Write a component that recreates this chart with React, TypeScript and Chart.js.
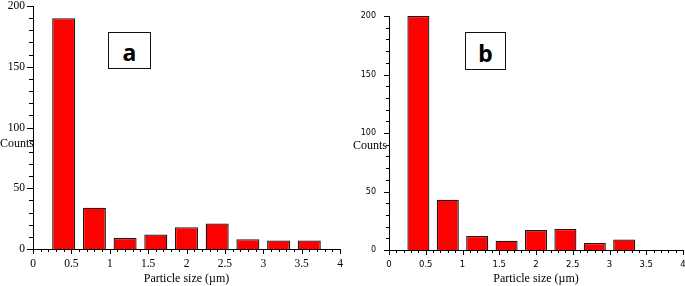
import React, { useEffect, useRef } from "react";
import { Chart, registerables } from "chart.js";

Chart.register(...registerables);

// ---- data ----
const binCentersA = [0.4, 0.8, 1.2, 1.6, 2.0, 2.4, 2.8, 3.2, 3.6];
const countsA = [190, 34, 9, 12, 18, 21, 8, 7, 7];
const binCentersB = [0.4, 0.8, 1.2, 1.6, 2.0, 2.4, 2.8, 3.2];
const countsB = [200, 43, 12, 8, 17, 18, 6, 9];
const xRange = [0, 4];
const xMajorStep = 0.5;
const xMinorStep = 0.1;
const yRange = [0, 200];
const yMajorStep = 50;
const yMinorStep = 10;
const panelLetters = ["a", "b"];
const xTitle = "Particle size (µm)";
const yTitle = "Counts";

type PanelStyle = {
  left: number;
  width: number;
  padTop: number;
  padRight: number;
  yWidth: number;
  xHeight: number;
  xFont: { family: string; size: number };
  yFont: { family: string; size: number };
  xPad: number;
  yPad: number;
  xMajorLen: number;
  xMinorLen: number;
  yMajorLen: number;
  yMinorLen: number;
};

const serif = "'Liberation Serif', 'Times New Roman', serif";
const sans = "'DejaVu Sans', Verdana, sans-serif";

const styles: PanelStyle[] = [
  {
    left: 0, width: 346, padTop: 6, padRight: 6, yWidth: 33, xHeight: 37,
    xFont: { family: serif, size: 11.5 }, yFont: { family: serif, size: 11.5 },
    xPad: 8, yPad: 8, xMajorLen: 5, xMinorLen: 3, yMajorLen: 6, yMinorLen: 4,
  },
  {
    left: 346, width: 339, padTop: 16, padRight: 2, yWidth: 43, xHeight: 36,
    xFont: { family: sans, size: 8.5 }, yFont: { family: sans, size: 8 },
    xPad: 10, yPad: 13, xMajorLen: 5, xMinorLen: 3, yMajorLen: 5, yMinorLen: 3,
  },
];

const tickPlugin = {
  id: "minorMajorTicks",
  afterDraw(chart: any, _args: any, opts: any) {
    const { ctx, chartArea } = chart;
    const xs = chart.scales.x;
    const ys = chart.scales.y;
    ctx.save();
    ctx.strokeStyle = "#000";
    ctx.lineWidth = 1;
    ctx.beginPath();
    const nx = Math.round((xRange[1] - xRange[0]) / xMinorStep);
    const everyX = Math.round(xMajorStep / xMinorStep);
    for (let i = 0; i <= nx; i++) {
      const v = xRange[0] + i * xMinorStep;
      const px = Math.round(xs.getPixelForValue(v)) + 0.5;
      const len = i % everyX === 0 ? opts.xMajorLen : opts.xMinorLen;
      ctx.moveTo(px, chartArea.bottom);
      ctx.lineTo(px, chartArea.bottom + len);
    }
    const ny = Math.round((yRange[1] - yRange[0]) / yMinorStep);
    const everyY = Math.round(yMajorStep / yMinorStep);
    for (let i = 0; i <= ny; i++) {
      const v = yRange[0] + i * yMinorStep;
      const py = Math.round(ys.getPixelForValue(v)) + 0.5;
      const len = i % everyY === 0 ? opts.yMajorLen : opts.yMinorLen;
      ctx.moveTo(chartArea.left, py);
      ctx.lineTo(chartArea.left - len, py);
    }
    ctx.stroke();
    ctx.restore();
  },
};

function Panel({ centers, counts, st }: { centers: number[]; counts: number[]; st: PanelStyle }) {
  const ref = useRef<HTMLCanvasElement>(null);
  useEffect(() => {
    if (!ref.current) return;
    const chart = new Chart(ref.current, {
      type: "bar",
      data: {
        datasets: [
          {
            data: centers.map((c, i) => ({ x: c, y: counts[i] })),
            backgroundColor: "#ff0000",
            borderColor: "#1a1a1a",
            borderWidth: 1.3,
            barPercentage: 0.75,
            categoryPercentage: 1,
          },
        ],
      },
      plugins: [tickPlugin],
      options: {
        animation: false,
        responsive: false,
        events: [],
        layout: { padding: { top: st.padTop, right: st.padRight, left: 0, bottom: 0 } },
        plugins: {
          legend: { display: false },
          tooltip: { enabled: false },
          minorMajorTicks: {
            xMajorLen: st.xMajorLen, xMinorLen: st.xMinorLen,
            yMajorLen: st.yMajorLen, yMinorLen: st.yMinorLen,
          },
        } as any,
        scales: {
          x: {
            type: "linear",
            offset: false,
            min: xRange[0],
            max: xRange[1],
            grid: { display: false, drawTicks: false, offset: false },
            border: { display: true, color: "#000", width: 1 },
            ticks: {
              stepSize: xMajorStep,
              color: "#000",
              font: st.xFont,
              padding: st.xPad,
              maxRotation: 0,
              autoSkip: false,
              callback: (v: any) => String(Number(v)),
            },
            title: {
              display: true,
              text: xTitle,
              color: "#000",
              font: { family: serif, size: 12 },
              padding: { top: 0, bottom: 0 },
            },
            afterFit: (s: any) => {
              s.height = st.xHeight;
              s.paddingLeft = 0;
              s.paddingRight = 0;
            },
          },
          y: {
            type: "linear",
            min: yRange[0],
            max: yRange[1],
            grid: { display: false, drawTicks: false },
            border: { display: true, color: "#000", width: 1 },
            ticks: {
              stepSize: yMajorStep,
              color: "#000",
              font: st.yFont,
              padding: st.yPad,
            },
            afterFit: (s: any) => {
              s.width = st.yWidth;
              s.paddingTop = 0;
              s.paddingBottom = 0;
            },
          },
        },
      } as any,
    });
    return () => chart.destroy();
  }, []);
  return (
    <canvas
      ref={ref}
      width={st.width}
      height={286}
      style={{ position: "absolute", left: st.left, top: 0, width: st.width, height: 286, display: "block" }}
    />
  );
}

const letterBox = (left: number, top: number, w: number, h: number, text: string) => (
  <div
    style={{
      position: "absolute",
      left,
      top,
      width: w,
      height: h,
      boxSizing: "border-box",
      border: "1.5px solid #111",
      background: "#fff",
      display: "flex",
      alignItems: "center",
      justifyContent: "center",
      paddingTop: 4,
      fontFamily: "'Noto Sans', 'Open Sans', sans-serif",
      fontWeight: 700,
      fontSize: 23,
      lineHeight: "23px",
      color: "#000",
    }}
  >
    {text}
  </div>
);

const countsLabel = (left: number, top: number) => (
  <div
    style={{
      position: "absolute",
      left,
      top,
      fontFamily: serif,
      fontSize: 12,
      lineHeight: "14px",
      color: "#000",
      whiteSpace: "nowrap",
    }}
  >
    {yTitle}
  </div>
);

export default function App() {
  useEffect(() => {
    document.body.style.margin = "0";
  }, []);
  return (
    <div style={{ position: "relative", width: 685, height: 286, background: "#fff", overflow: "hidden" }}>
      <Panel centers={binCentersA} counts={countsA} st={styles[0]} />
      <Panel centers={binCentersB} counts={countsB} st={styles[1]} />
      {countsLabel(0, 136)}
      {countsLabel(353, 138)}
      {letterBox(108, 32, 43, 37, panelLetters[0])}
      {letterBox(465, 32, 41, 38, panelLetters[1])}
    </div>
  );
}
